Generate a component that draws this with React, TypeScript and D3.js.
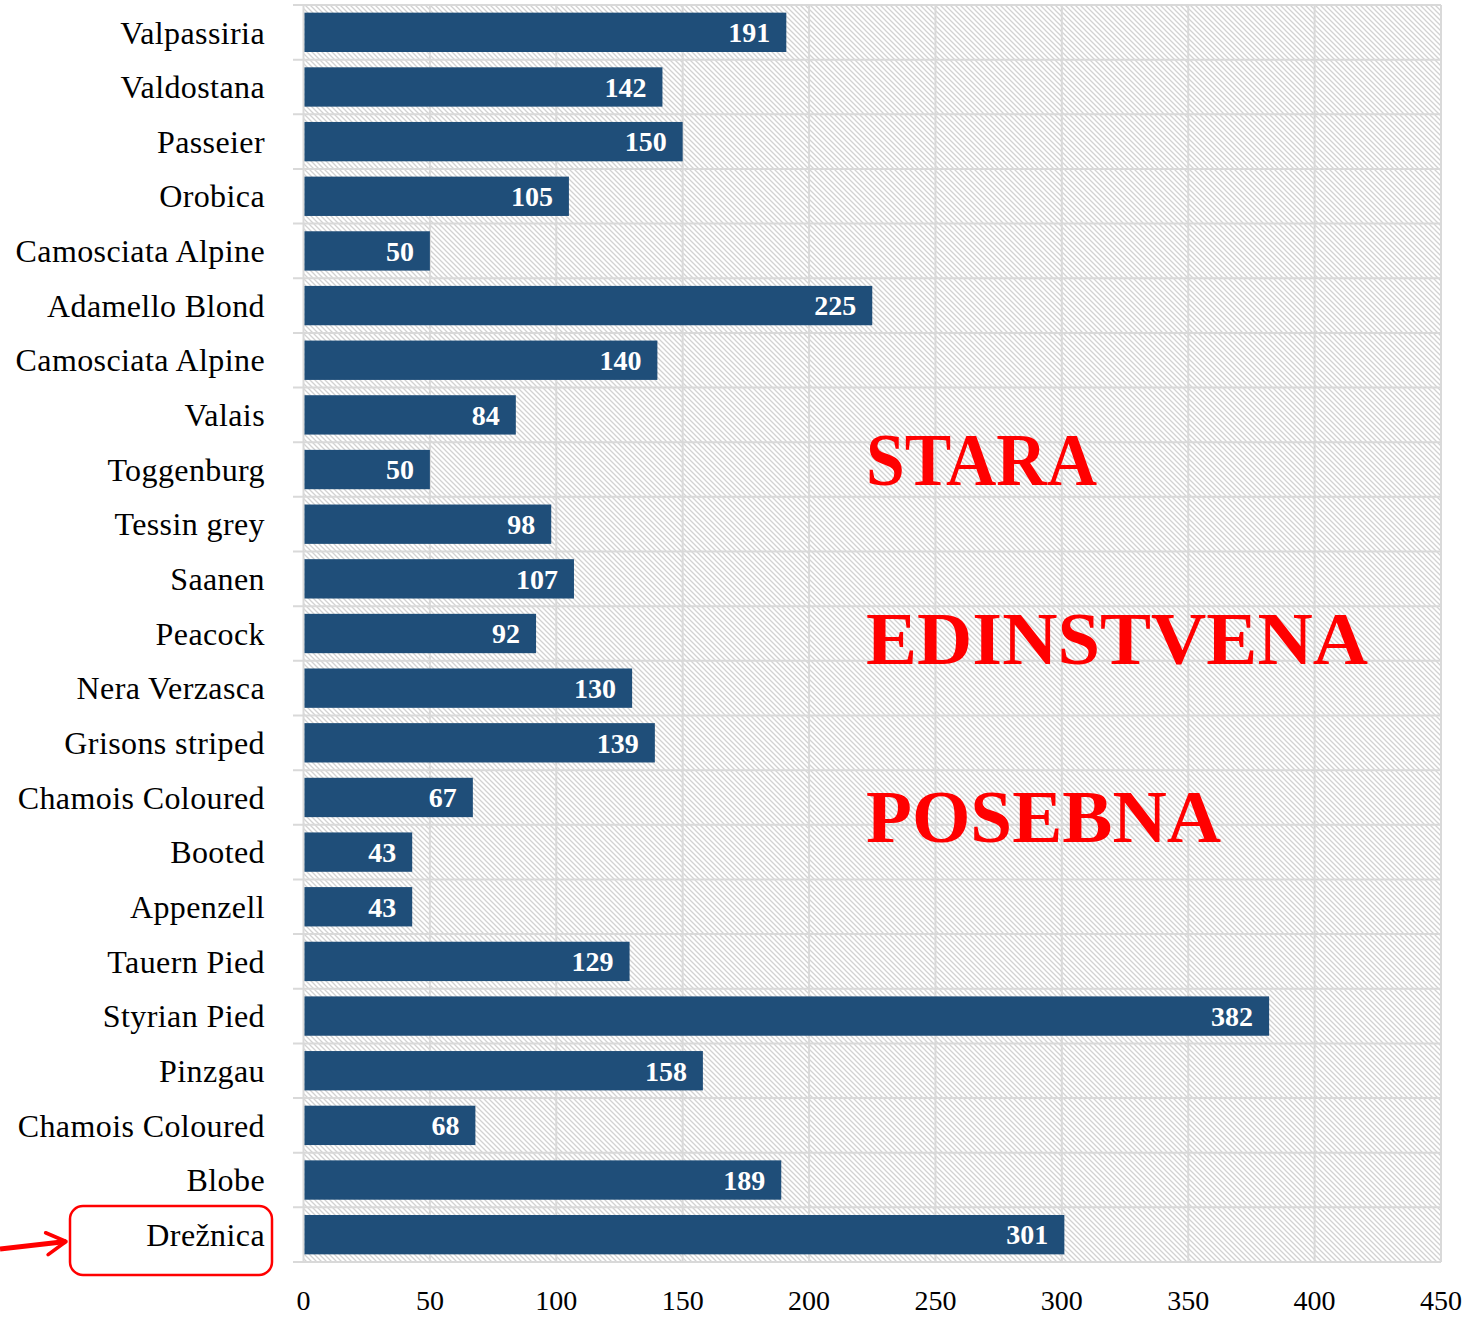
import React from "react";
import * as d3 from "d3";

const categories = ["Valpassiria","Valdostana","Passeier","Orobica","Camosciata Alpine","Adamello Blond","Camosciata Alpine","Valais","Toggenburg","Tessin grey","Saanen","Peacock","Nera Verzasca","Grisons striped","Chamois Coloured","Booted","Appenzell","Tauern Pied","Styrian Pied","Pinzgau","Chamois Coloured","Blobe","Drežnica"];
const values = [191,142,150,105,50,225,140,84,50,98,107,92,130,139,67,43,43,129,382,158,68,189,301];
const ticks = [0,50,100,150,200,250,300,350,400,450];
const overlayWords = ["STARA","EDINSTVENA","POSEBNA"];

const W = 1473, H = 1319;
const left = 303.5, right = 1441, top = 5, bottom = 1262;
const serif = "'Liberation Serif', 'DejaVu Serif', serif";

export default function App() {
  const x = d3.scaleLinear().domain([0, 450]).range([left, right]);
  const y = d3.scaleBand<number>().domain(d3.range(categories.length)).range([top, bottom]).paddingInner(0.28).paddingOuter(0.14);
  const step = y.step();
  const grid = "#d9d9d9";
  const boundaries = d3.range(categories.length + 1).map(i => top + i * step);
  const wordY = [485, 664, 842];
  const wordLen = [231, 502, 355];
  return (
    <svg width={W} height={H} style={{ position: "absolute", left: 0, top: 0, background: "#fff" }}>
      <defs>
        <pattern id="hatch" patternUnits="userSpaceOnUse" width={5} height={5}>
          <rect width={5} height={5} fill="#fff" />
          <path d="M-1,-1 L6,6 M-1,4 L1,6 M4,-1 L6,1" stroke="#d2d2d2" strokeWidth={1.3} />
        </pattern>
        <marker id="arr" viewBox="0 0 10 10" refX={8.5} refY={5} markerWidth={5.5} markerHeight={5.5} orient="auto">
          <path d="M1.5,1 L8.5,5 L1.5,9" fill="none" stroke="red" strokeWidth={1.3} strokeLinecap="round" strokeLinejoin="round" />
        </marker>
      </defs>
      <rect x={left} y={top} width={right - left} height={bottom - top} fill="url(#hatch)" />
      {ticks.slice(1).map(t => (
        <line key={"v" + t} x1={x(t)} x2={x(t)} y1={top} y2={bottom} stroke={grid} strokeWidth={2} />
      ))}
      {boundaries.map((b, i) => (
        <line key={"h" + i} x1={293} x2={right} y1={b} y2={b} stroke={grid} strokeWidth={2} />
      ))}
      <line x1={left} x2={left} y1={top} y2={bottom} stroke={grid} strokeWidth={2} />
      {values.map((v, i) => (
        <g key={"b" + i}>
          <rect x={x(0) + 1} y={y(i)} width={x(v) - x(0) - 1} height={y.bandwidth()} fill="#1f4e79" />
          <text x={x(v) - 16} y={y(i)! + y.bandwidth() / 2} dy="0.35em" textAnchor="end" fill="#fff" fontFamily={serif} fontWeight="bold" fontSize={28}>{v}</text>
        </g>
      ))}
      {categories.map((c, i) => (
        <text key={"c" + i} x={265} y={y(i)! + y.bandwidth() / 2} dy="0.35em" textAnchor="end" fill="#000" fontFamily={serif} fontSize={32} letterSpacing={0.4}>{c}</text>
      ))}
      {ticks.map(t => (
        <text key={"t" + t} x={x(t)} y={1300} dy="0.35em" textAnchor="middle" fill="#000" fontFamily={serif} fontSize={28}>{t}</text>
      ))}
      {overlayWords.map((w, i) => (
        <text key={w} x={866} y={wordY[i]} fill="#ff0000" fontFamily={serif} fontWeight="bold" fontSize={74} textLength={wordLen[i]} lengthAdjust="spacingAndGlyphs">{w}</text>
      ))}
      <rect x={70} y={1206} width={202} height={69} rx={13} fill="none" stroke="#ff0000" strokeWidth={2.5} />
      <line x1={0} y1={1249} x2={66} y2={1241.5} stroke="#ff0000" strokeWidth={5} markerEnd="url(#arr)" />
    </svg>
  );
}
